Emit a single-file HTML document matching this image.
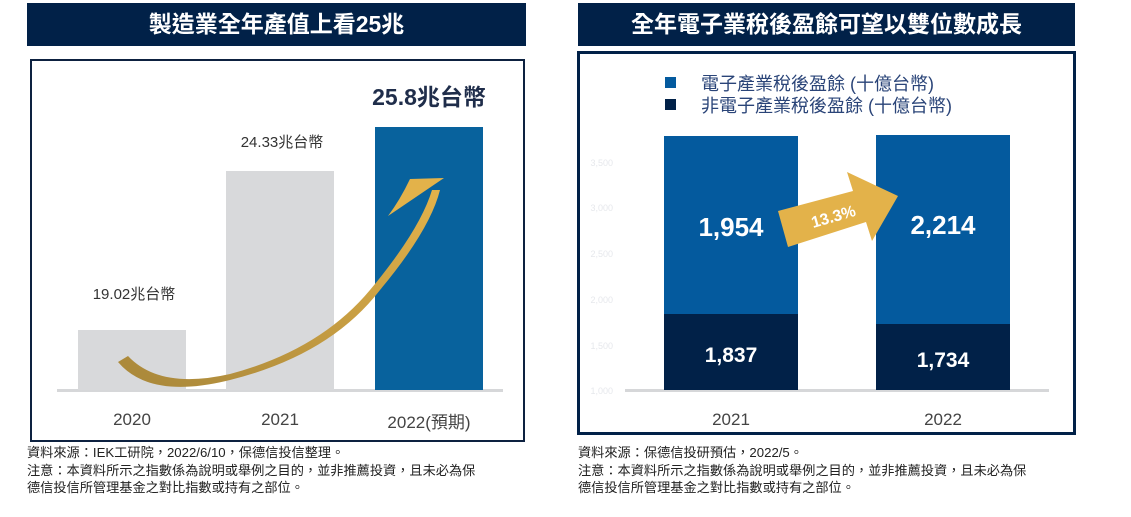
<!DOCTYPE html>
<html><head><meta charset="utf-8"><style>
body{margin:0;width:1131px;height:517px;background:#fff;position:relative;overflow:hidden;font-family:"Liberation Sans","Noto Sans CJK TC",sans-serif}
.a{position:absolute}
.tb{background:#012148;color:#fff;font-weight:bold;font-size:23px;text-align:center;line-height:43px}
.fn{font-size:13.2px;color:#222;line-height:17.5px;white-space:nowrap}
</style></head><body>
<div class="a tb" style="left:27px;top:3px;width:499px;height:43px">製造業全年產值上看25兆</div>
<div class="a tb" style="left:578px;top:3px;width:497px;height:43px">全年電子業稅後盈餘可望以雙位數成長</div>
<div class="a" style="left:30px;top:59px;width:491px;height:379px;border:2px solid #0d2140"></div>
<div class="a" style="left:577px;top:51px;width:493px;height:378px;border:3px solid #012148"></div>
<svg class="a" style="left:0;top:0" width="1131" height="517">
<rect x="57" y="389" width="446" height="3" fill="#d6d7d9"/>
<rect x="78" y="330" width="108" height="60" fill="#d8d9db"/>
<rect x="226" y="171" width="108" height="219" fill="#d8d9db"/>
<rect x="375" y="127" width="108" height="263" fill="#08629d"/>
<defs><linearGradient id="g" x1="0" y1="1" x2="1" y2="0"><stop offset="0" stop-color="#a8873a"/><stop offset="1" stop-color="#e3b24a"/></linearGradient></defs>
<path d="M118 362 Q150 400 230 380 Q330 355 380 290 Q430 230 440 190 L432 190 Q420 230 370 290 Q320 350 230 374 Q160 390 128 356 Z" fill="url(#g)"/>
<path d="M410 179 L444 178 L388 216 Q400 200 410 179Z" fill="#e3b24a"/>
<rect x="625" y="389" width="424" height="3" fill="#d6d7d9"/>
<rect x="664" y="136" width="134" height="178" fill="#045a9e"/>
<rect x="664" y="314" width="134" height="76" fill="#012148"/>
<rect x="876" y="135" width="134" height="189" fill="#045a9e"/>
<rect x="876" y="324" width="134" height="66" fill="#012148"/>
<rect x="665" y="77" width="11" height="11" fill="#045a9e"/>
<rect x="665" y="99" width="11" height="11" fill="#012148"/>
<path d="M778 211 L853 191 L847 172 L898 196 L872 241 L866 222 L788 247 Z" fill="#e3b24a"/>
<text x="833" y="222" transform="rotate(-16 833 215)" font-family="Liberation Sans" font-weight="bold" font-size="16" fill="#fff" text-anchor="middle">13.3%</text>
<g font-family="Liberation Sans" font-size="9" fill="#e6e8ec" text-anchor="end">
<text x="613" y="166">3,500</text><text x="613" y="211">3,000</text><text x="613" y="257">2,500</text><text x="613" y="303">2,000</text><text x="613" y="349">1,500</text><text x="613" y="394">1,000</text></g>
<g font-family="Liberation Sans" font-weight="bold" fill="#fff" text-anchor="middle">
<text x="731" y="236" font-size="26">1,954</text><text x="943" y="234" font-size="26">2,214</text>
<text x="731" y="362" font-size="21">1,837</text><text x="943" y="367" font-size="21">1,734</text></g>
<g font-family="Liberation Sans,Noto Sans CJK TC" font-size="17" fill="#444" text-anchor="middle">
<text x="132" y="425">2020</text><text x="280" y="425">2021</text><text x="429" y="428">2022(預期)</text>
<text x="731" y="425">2021</text><text x="943" y="425">2022</text></g>
<g font-family="Liberation Sans,Noto Sans CJK TC" font-size="15" fill="#333" text-anchor="middle">
<text x="134" y="299">19.02兆台幣</text><text x="282" y="147">24.33兆台幣</text></g>
<text x="429" y="105" font-family="Liberation Sans,Noto Sans CJK TC" font-weight="bold" font-size="23" fill="#1f2d4a" text-anchor="middle">25.8兆台幣</text>
<g font-family="Liberation Sans,Noto Sans CJK TC" font-size="18" fill="#2a4478">
<text x="701" y="90">電子產業稅後盈餘 (十億台幣)</text><text x="701" y="112">非電子產業稅後盈餘 (十億台幣)</text></g>
</svg>
<div class="a fn" style="left:27px;top:444px">資料來源：IEK工研院，2022/6/10，保德信投信整理。<br>注意：本資料所示之指數係為說明或舉例之目的，並非推薦投資，且未必為保<br>德信投信所管理基金之對比指數或持有之部位。</div>
<div class="a fn" style="left:578px;top:444px">資料來源：保德信投研預估，2022/5。<br>注意：本資料所示之指數係為說明或舉例之目的，並非推薦投資，且未必為保<br>德信投信所管理基金之對比指數或持有之部位。</div>
</body></html>
